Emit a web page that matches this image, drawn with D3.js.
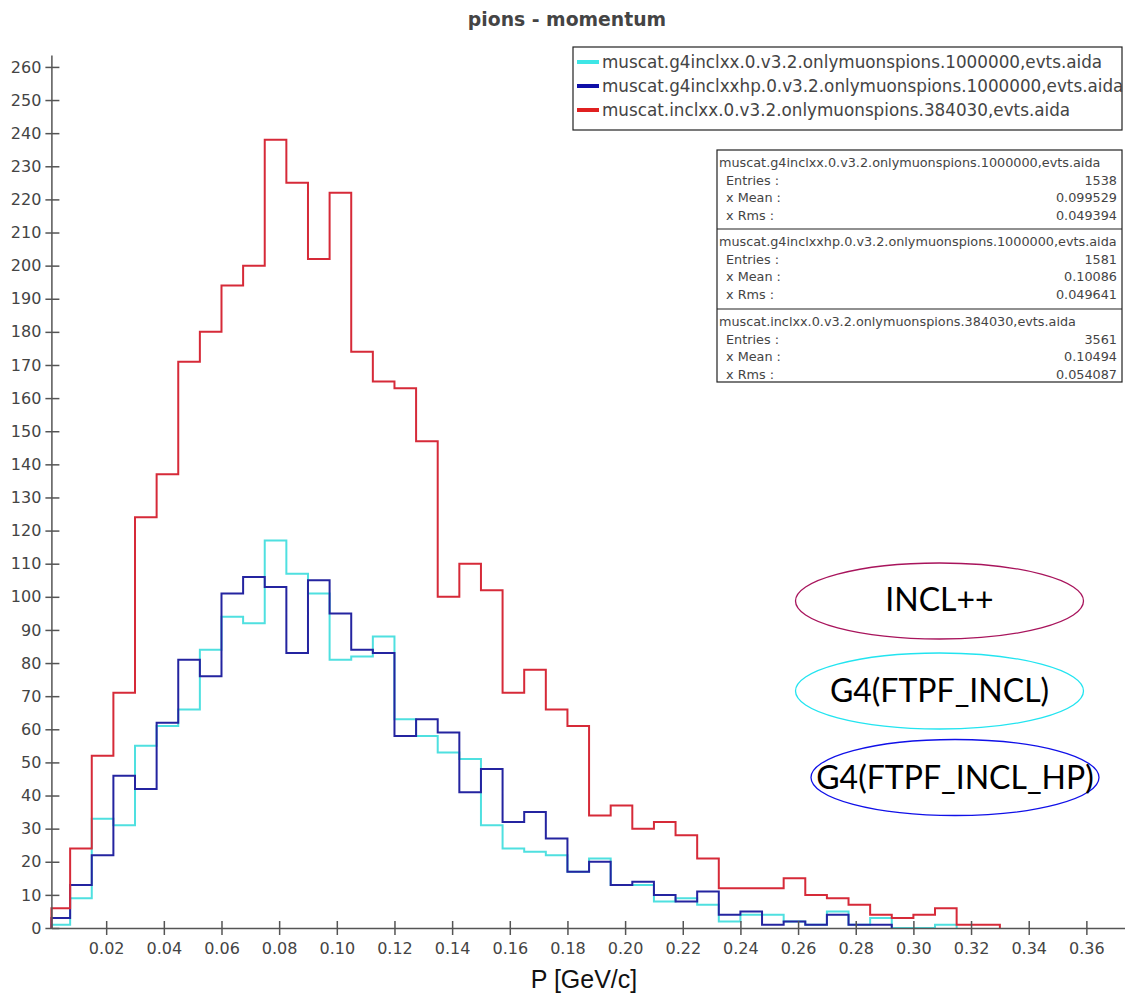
<!DOCTYPE html>
<html>
<head>
<meta charset="utf-8">
<script src="https://cdn.jsdelivr.net/npm/d3@7"></script>
<style>
  body { margin: 0; background: #fff; }
  svg { display: block; }
</style>
</head>
<body>
<svg width="1125" height="994"></svg>
<script>
// histogram counts, bin width 0.0075 GeV/c starting at 0
const binWidth = 0.0075;
const cyanCounts = [1, 9, 33, 31, 55, 61, 66, 84, 94, 92, 117, 107, 101, 81, 82, 88, 63, 58, 53, 51,
  31, 24, 23, 22, 17, 21, 13, 13, 8, 9, 7, 2, 4, 4, 2, 1, 5, 1, 3, 0, 0, 1];
const blueCounts = [3, 13, 22, 46, 42, 62, 81, 76, 101, 106, 103, 83, 105, 95, 84, 83, 58, 63, 59, 41,
  48, 32, 35, 27, 17, 20, 13, 14, 10, 8, 11, 4, 5, 1, 2, 1, 4, 1, 1];
const redCounts = [6, 24, 52, 71, 124, 137, 171, 180, 194, 200, 238, 225, 202, 222, 174, 165, 163, 147, 100, 110,
  102, 71, 78, 66, 61, 34, 37, 30, 32, 28, 21, 12, 12, 12, 15, 10, 9, 7, 4, 3, 4, 6, 1, 1];

const seriesNames = [
  "muscat.g4inclxx.0.v3.2.onlymuonspions.1000000,evts.aida",
  "muscat.g4inclxxhp.0.v3.2.onlymuonspions.1000000,evts.aida",
  "muscat.inclxx.0.v3.2.onlymuonspions.384030,evts.aida"
];
const seriesColors = ["#4fe0e0", "#2424a0", "#d62a38"];
const legendColors = ["#3ee6e6", "#1010a8", "#e02020"];
const statEntries = ["1538", "1581", "3561"];
const statMeans = ["0.099529", "0.10086", "0.10494"];
const statRms = ["0.049394", "0.049641", "0.054087"];

const xTicks = d3.range(1, 19).map(i => i * 0.02);
const yTicks = d3.range(0, 261, 10);

const labels = ["INCL++", "G4(FTPF_INCL)", "G4(FTPF_INCL_HP)"];
const labelColors = ["#a8145c", "#22e4f0", "#1010e8"];

const svg = d3.select("svg");
const x = d3.scaleLinear().domain([0.001, 0.3734]).range([51.4, 1125]);
const y = d3.scaleLinear().domain([0, 263.6]).range([928, 55]);

// title
svg.append("text")
    .attr("x", 567).attr("y", 26)
    .attr("text-anchor", "middle")
    .attr("font-family", "DejaVu Sans")
    .attr("font-weight", "bold")
    .attr("font-size", 18.8)
    .attr("fill", "#444")
    .text("pions - momentum");

// histograms
const line = d3.line()
    .x(d => x(Math.max(d[0], x.domain()[0])))
    .y(d => y(d[1]))
    .curve(d3.curveStepAfter);

[cyanCounts, blueCounts, redCounts].forEach((counts, k) => {
  const pts = [[0, 0]]
    .concat(counts.map((c, i) => [i * binWidth, c]))
    .concat([[counts.length * binWidth, 0]]);
  svg.append("path")
      .attr("d", line(pts))
      .attr("fill", "none")
      .attr("stroke", seriesColors[k])
      .attr("stroke-width", 2);
});

// axes
const xAxis = svg.append("g")
    .attr("transform", `translate(0,${y(0)})`)
    .call(d3.axisBottom(x).tickValues(xTicks).tickFormat(d3.format(".2f"))
      .tickSize(7).tickSizeOuter(0).tickPadding(7.5));
xAxis.selectAll(".tick line").attr("y1", -7);

const yAxis = svg.append("g")
    .attr("transform", `translate(${x(0.001)},0)`)
    .call(d3.axisLeft(y).tickValues(yTicks).tickSize(6).tickSizeOuter(0).tickPadding(4));
yAxis.selectAll(".tick line").attr("x1", 8);

[xAxis, yAxis].forEach(g => {
  g.select(".domain").attr("stroke", "#555").attr("stroke-width", 1.5);
  g.selectAll(".tick line").attr("stroke", "#555").attr("stroke-width", 1.5);
  g.selectAll("text")
      .attr("font-family", "DejaVu Sans")
      .attr("font-size", 16)
      .attr("fill", "#444");
});

svg.append("text")
    .attr("x", 584).attr("y", 988)
    .attr("text-anchor", "middle")
    .attr("font-family", "Liberation Sans")
    .attr("font-size", 25)
    .attr("fill", "#111")
    .text("P [GeV/c]");

// legend
const legend = svg.append("g");
legend.append("rect")
    .attr("x", 573).attr("y", 47).attr("width", 549).attr("height", 83)
    .attr("fill", "#fff").attr("stroke", "#222").attr("stroke-width", 1.2);
seriesNames.forEach((name, i) => {
  const cy = 62 + i * 24;
  legend.append("line")
      .attr("x1", 577).attr("x2", 599).attr("y1", cy).attr("y2", cy)
      .attr("stroke", legendColors[i]).attr("stroke-width", 4);
  legend.append("text")
      .attr("x", 602).attr("y", cy + 6)
      .attr("font-family", "DejaVu Sans")
      .attr("font-size", 16.8)
      .attr("fill", "#444")
      .text(name);
});

// statistics box
const stats = svg.append("g").attr("font-family", "DejaVu Sans").attr("font-size", 12.8).attr("fill", "#444");
const secTop = [150, 229, 309];
stats.append("rect")
    .attr("x", 717).attr("y", 150).attr("width", 405).attr("height", 232)
    .attr("fill", "#fff").attr("stroke", "#222").attr("stroke-width", 1.2);
seriesNames.forEach((name, i) => {
  const t = secTop[i];
  if (i > 0) {
    stats.append("line")
        .attr("x1", 717).attr("x2", 1122).attr("y1", t).attr("y2", t)
        .attr("stroke", "#222").attr("stroke-width", 1.2);
  }
  stats.append("text").attr("x", 719).attr("y", t + 12 + 4.5).text(name);
  const rows = [["Entries :", statEntries[i]], ["x Mean :", statMeans[i]], ["x Rms :", statRms[i]]];
  rows.forEach((r, j) => {
    const cy = t + 30 + j * 17.5 + 4.5;
    stats.append("text").attr("x", 726).attr("y", cy).text(r[0]);
    stats.append("text").attr("x", 1117).attr("y", cy).attr("text-anchor", "end").text(r[1]);
  });
});

// annotation ellipses
const ellipses = [[939.5, 601], [939.5, 691], [955, 777.5]];
const baselines = [611, 702, 789];
labels.forEach((lab, i) => {
  svg.append("ellipse")
      .attr("cx", ellipses[i][0]).attr("cy", ellipses[i][1])
      .attr("rx", 144).attr("ry", 38)
      .attr("fill", "none")
      .attr("stroke", labelColors[i])
      .attr("stroke-width", 1.3);
  svg.append("text")
      .attr("x", ellipses[i][0]).attr("y", baselines[i])
      .attr("text-anchor", "middle")
      .attr("font-family", "Lato")
      .attr("font-size", 32)
      .attr("fill", "#000")
      .text(lab);
});
</script>
</body>
</html>
